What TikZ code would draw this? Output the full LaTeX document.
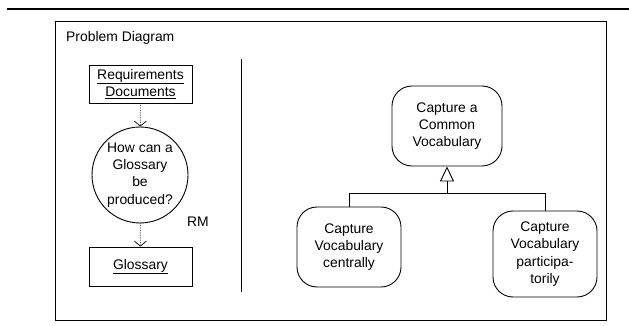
\documentclass[tikz,border=0pt]{standalone}
\usepackage{fontspec}
\setmainfont{Liberation Sans}
\usetikzlibrary{arrows.meta}
\begin{document}
\begin{tikzpicture}[x=1pt,y=-1pt,
  every node/.style={font=\fontsize{13.9}{17.3}\selectfont, inner sep=0pt},
  domainbox/.style={draw, line width=0.9pt, minimum width=103pt, minimum height=38pt, align=center},
  question/.style={draw, line width=0.9pt, circle, minimum size=96pt, align=center},
  goalbox/.style={draw, line width=0.9pt, rounded corners=20pt, align=center},
  refers/.style={densely dotted, line width=0.7pt, -{Straight Barb[length=5pt,width=12pt]}},
  tree/.style={line width=0.9pt},
  generalizes/.style={line width=0.9pt, -{Triangle[open,length=15pt,width=14pt,line width=0.9pt]}}
]
\useasboundingbox (0,0) rectangle (629,326);
% heading rule and frame
\draw[line width=2.5pt] (7,9) -- (629,9);
\draw[line width=0.9pt] (55,21) rectangle (606,320);
\node[anchor=west] (title) at (66,38) {Problem Diagram};
% problem diagram
\node[domainbox] (req) at (140.5,84) {\underline{Requirements}\\\underline{Documents}};
\node[question] (q) at (140,175) {How can a\\Glossary\\be\\produced?};
\node[domainbox, minimum height=39pt] (glos) at (140.5,266.5) {\underline{Glossary}};
\node (rm) at (198,222) {RM};
\draw[refers] (req) -- (q);
\draw[refers] (q) -- (glos);
% separator
\coordinate (sepTop) at (241,59);
\coordinate (sepBot) at (241,292);
\draw[line width=1pt] (sepTop) -- (sepBot);
% goal refinement
\node[goalbox, minimum width=110pt, minimum height=80pt] (common) at (447,126) {Capture a\\Common\\Vocabulary};
\node[goalbox, minimum width=104pt, minimum height=80pt] (central) at (349,247) {Capture\\Vocabulary\\centrally};
\node[goalbox, minimum width=104pt, minimum height=86pt] (partic) at (545,254) {Capture\\Vocabulary\\participa-\\torily};
\coordinate (join) at (447,193);
\draw[tree] (central.north) -- (central.north |- join) -- (partic.north |- join) -- (partic.north);
\draw[generalizes] (join) -- (common.south);
\end{tikzpicture}
\end{document}
